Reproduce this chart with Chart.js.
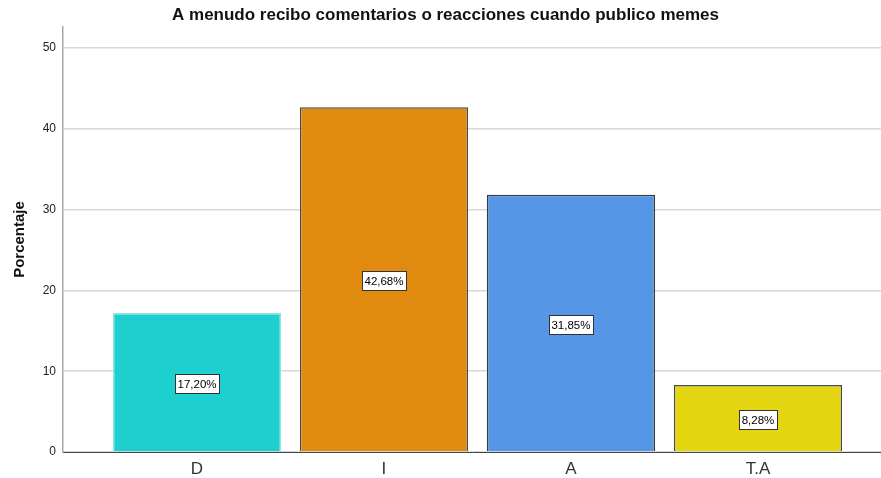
<!DOCTYPE html>
<html>
<head>
<meta charset="utf-8">
<script src="https://cdn.jsdelivr.net/npm/chart.js@4/dist/chart.umd.min.js"></script>
<style>
html,body{margin:0;padding:0;background:#fff;}
#wrap{width:881px;height:478px;position:relative;}
</style>
</head>
<body>
<div id="wrap"><canvas id="c"></canvas></div>
<script>
const titleText = "A menudo recibo comentarios o reacciones cuando publico memes";
const yAxisTitle = "Porcentaje";
const categories = ["D", "I", "A", "T.A"];
const values = [17.20, 42.68, 31.85, 8.28];
const valueLabels = ["17,20%", "42,68%", "31,85%", "8,28%"];
const yTicks = [0, 10, 20, 30, 40, 50];
const barColors = ["#1dcfcf", "#e08a10", "#5596e6", "#e3d611"];
const barBorders = ["#8ee3e3", "#4a4a4a", "#3a3a3a", "#4a4a4a"];

const FONT = "Arial, 'Liberation Sans', sans-serif";

const labelPlugin = {
  id: 'boxLabels',
  afterDatasetsDraw(chart) {
    const ctx = chart.ctx;
    const meta = chart.getDatasetMeta(0);
    ctx.save();
    ctx.font = "11.5px " + FONT;
    ctx.textAlign = "center";
    ctx.textBaseline = "middle";
    meta.data.forEach((bar, i) => {
      const cx = bar.x;
      const cy = (bar.y + bar.base) / 2 + 1.5;
      const w = Math.round(ctx.measureText(valueLabels[i]).width + 5);
      const h = 19;
      const x0 = Math.round(cx - w / 2) + 0.5;
      const y0 = Math.round(cy - h / 2) + 0.5;
      ctx.fillStyle = "#ffffff";
      ctx.fillRect(x0, y0, w, h);
      ctx.strokeStyle = "#333333";
      ctx.lineWidth = 1;
      ctx.strokeRect(x0, y0, w, h);
      ctx.fillStyle = "#000000";
      ctx.fillText(valueLabels[i], cx, cy + 1);
    });
    ctx.restore();
  }
};

new Chart(document.getElementById('c'), {
  type: 'bar',
  data: {
    datasets: [{
      data: categories.map((c, i) => ({ x: i, y: values[i] })),
      backgroundColor: barColors,
      borderColor: barBorders,
      borderWidth: 1.5,
      barPercentage: 0.9,
      categoryPercentage: 1.0
    }]
  },
  options: {
    responsive: true,
    maintainAspectRatio: false,
    animation: false,
    layout: { padding: { left: 10, right: 0, top: 0, bottom: 0 } },
    plugins: {
      legend: { display: false },
      tooltip: { enabled: false },
      title: {
        display: true,
        text: titleText,
        color: "#111111",
        font: { family: FONT, size: 17, weight: 'bold' },
        padding: { top: 5.5, bottom: 1.1 }
      }
    },
    scales: {
      x: {
        type: 'linear',
        offset: false,
        min: -0.7166,
        max: 3.658,
        afterBuildTicks(scale) {
          scale.ticks = categories.map((c, i) => ({ value: i }));
        },
        afterFit(scale) { scale.height = 26; },
        grid: { display: false, drawTicks: false, offset: false },
        border: { display: true, color: "#444444", width: 1 },
        ticks: {
          color: "#333333",
          font: { family: FONT, size: 17 },
          padding: 7,
          autoSkip: false,
          maxRotation: 0,
          callback: (v) => categories[v]
        }
      },
      y: {
        min: 0,
        max: 52.6,
        afterBuildTicks(scale) {
          scale.ticks = yTicks.map(v => ({ value: v }));
        },
        afterFit(scale) { scale.width = 53; },
        grid: { color: "#d8d8d8", lineWidth: 1.5, drawTicks: false },
        border: { display: true, color: "#a8a8a8", width: 1.5 },
        ticks: {
          color: "#222222",
          font: { family: FONT, size: 12 },
          padding: 7
        },
        title: {
          display: true,
          text: yAxisTitle,
          color: "#111111",
          font: { family: FONT, size: 15, weight: 'bold' },
          padding: { top: 1, bottom: 0 }
        }
      }
    }
  },
  plugins: [labelPlugin]
});
</script>
</body>
</html>
